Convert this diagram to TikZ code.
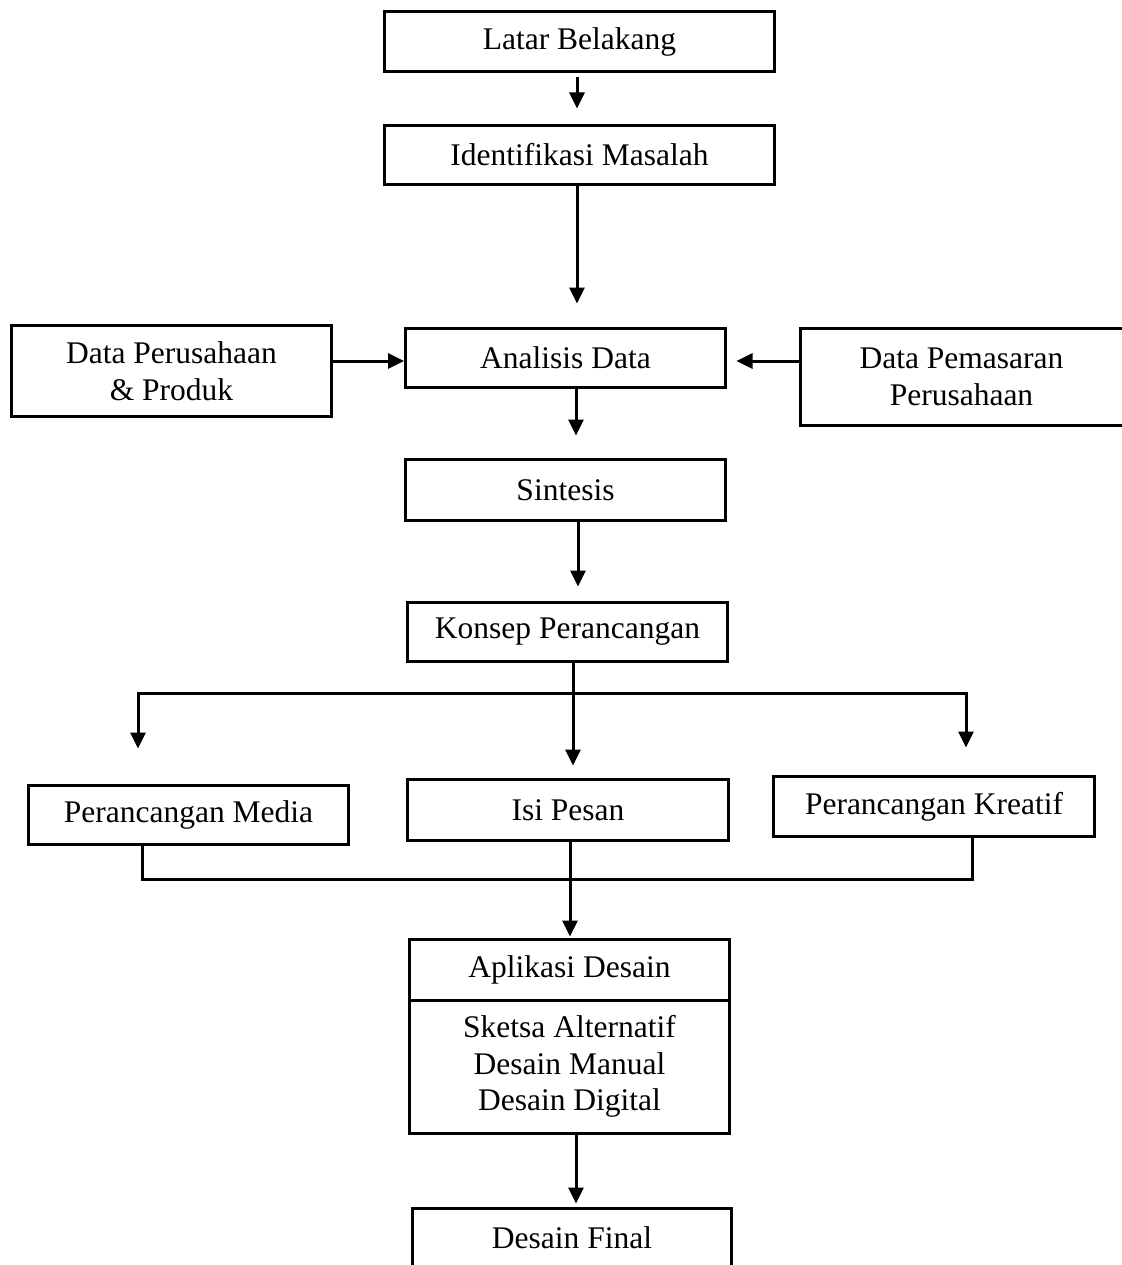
\documentclass[tikz,border=0pt]{standalone}
\usepackage{fontspec}
\setmainfont{Liberation Serif}
\usetikzlibrary{arrows.meta,calc}
\begin{document}
\begin{tikzpicture}[x=1pt,y=-1pt,
  box/.style={draw=black,line width=3pt,rectangle,inner sep=0pt,align=center,
    font=\fontsize{31.5}{36.5}\selectfont},
  conn/.style={line width=3pt},
  arr/.style={line width=3pt,-{Triangle[length=16pt,width=15pt]}},
  arrboth/.style={line width=3pt,{Triangle[length=16pt,width=15pt]}-{Triangle[length=16pt,width=15pt]}}]
\useasboundingbox (0,0) rectangle (1121,1265);
% boxes
\node[box,minimum width=390pt,minimum height=60pt] (lb) at (579.5,41.5) {Latar Belakang};
\node[box,minimum width=390pt,minimum height=59pt] (im) at (579.5,155) {Identifikasi Masalah};
\node[box,minimum width=320pt,minimum height=59pt] (ad) at (565.5,358) {Analisis Data};
\node[box,minimum width=320pt,minimum height=91pt] (dp) at (171.5,371) {Data Perusahaan\\\& Produk};
\node[box,minimum width=333pt,minimum height=97pt] (dm) at (967,377) {\hspace*{-11pt}Data Pemasaran\\\hspace*{-11pt}Perusahaan};
\node[box,minimum width=320pt,minimum height=61pt] (si) at (565.5,490) {Sintesis};
\node[box,minimum width=320pt,minimum height=59pt] (kp) at (567.5,632) {Konsep Perancangan};
\node[box,minimum width=320pt,minimum height=59pt] (pm) at (188.5,815) {Perancangan Media};
\node[box,minimum width=321pt,minimum height=61pt] (ip) at (568,810) {Isi Pesan};
\node[box,minimum width=321pt,minimum height=60pt] (pk) at (934,806.5) {Perancangan Kreatif};
\node[box,minimum width=320pt,minimum height=60.5pt] (ap) at (569.5,969.75) {Aplikasi Desain};
\node[box,minimum width=320pt,minimum height=133.5pt] (sk) at (569.5,1066.75) {Sketsa Alternatif\\Desain Manual\\Desain Digital};
\node[box,minimum width=319pt,minimum height=59pt] (df) at (572,1238) {Desain Final};
% helper coordinates
\coordinate (xl) at ([xshift=-2.5pt]lb.south);
\coordinate (xi) at ([xshift=-2.5pt]im.south);
\coordinate (ya) at ($(ad.west)+(0,3)$);
\coordinate (xa) at ([xshift=10.5pt]ad.south);
\coordinate (xs) at ([xshift=12.5pt]si.south);
\coordinate (xk) at ([xshift=5.5pt]kp.south);
\coordinate (bL) at (138,693);
\coordinate (bR) at (966,693);
\coordinate (pL) at (142,879);
\coordinate (pR) at (972,879);
\coordinate (xp) at ([xshift=2pt]ip.south);
\coordinate (xq) at ([xshift=6.5pt]sk.south);
% connectors
\draw[arr,shorten <=4.5pt,shorten >=15.5pt] (xl) -- (xl |- im.north);
\draw[arr,shorten >=23.5pt] (xi) -- (xi |- ad.north);
\draw[arr] (dp.east |- ya) -- (ya);
\draw[arr,shorten >=9.5pt] (dm.west |- ya) -- (ad.east |- ya);
\draw[arr,shorten >=22.5pt] (xa) -- (xa |- si.north);
\draw[arr,shorten >=14.5pt] (xs) -- (xs |- kp.north);
\draw[arr,shorten >=12.5pt] (xk) -- (xk |- ip.north);
\draw[arrboth,shorten <=35.5pt,shorten >=27.5pt] (bL |- pm.north) -- (bL) -- (bR) -- (bR |- pk.north);
\draw[conn] (pL |- pm.south) -- (pL) -- (pR) -- (pR |- pk.south);
\draw[arr,shorten >=1.5pt] (xp) -- (xp |- ap.north);
\draw[arr,shorten >=3.5pt] (xq) -- (xq |- df.north);
\end{tikzpicture}
\end{document}
